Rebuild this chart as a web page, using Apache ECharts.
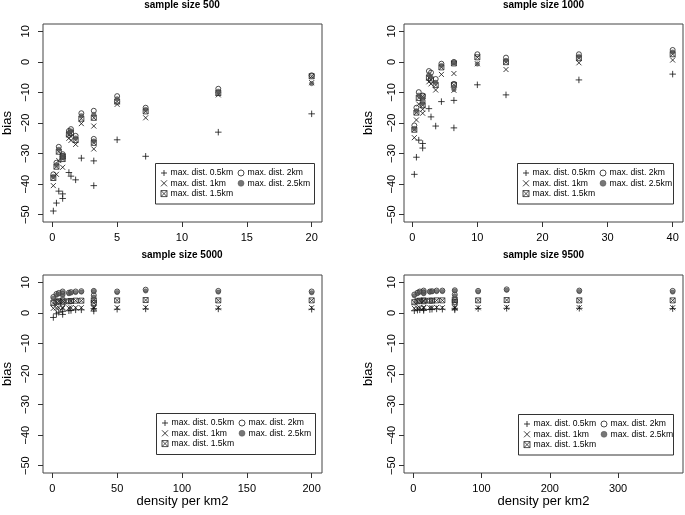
<!DOCTYPE html>
<html><head><meta charset="utf-8">
<script src="https://cdn.jsdelivr.net/npm/echarts@6/dist/echarts.min.js"></script>
<style>html,body{margin:0;padding:0;background:#fff}#c{width:685px;height:515px}</style>
</head><body><div id="c"></div>
<script>
// ---------- labels ----------
const panelTitles = ['sample size 500', 'sample size 1000', 'sample size 5000', 'sample size 9500'];
const seriesNames = ['max. dist. 0.5km', 'max. dist. 1km', 'max. dist. 1.5km', 'max. dist. 2km', 'max. dist. 2.5km'];
const xAxisTitle = 'density per km2';
const yAxisTitle = 'bias';
const xTicks500 = [0, 5, 10, 15, 20];
const xTicks1000 = [0, 10, 20, 30, 40];
const xTicks5000 = [0, 50, 100, 150, 200];
const xTicks9500 = [0, 100, 200, 300];
const yTicks = [-50, -40, -30, -20, -10, 0, 10];
const yLimits = [-50, 10];

// ---------- sample size 500 ----------
const density500 = [0.08, 0.32, 0.5, 0.8, 0.8, 1.28, 1.44, 1.8, 2.24, 3.2, 3.2, 5, 7.2, 12.8, 20];
const bias500_d05 = [-48.8, -46.2, -42.3, -43.2, -44.7, -36.2, -37.4, -38.6, -31.5, -32.4, -40.5, -25.5, -30.9, -23.0, -17.0];
const bias500_d10 = [-40.5, -36.8, -32.3, -30.8, -34.5, -25.0, -25.7, -27.0, -20.2, -21.0, -28.5, -13.9, -18.3, -10.8, -6.8];
const bias500_d15 = [-38.0, -34.3, -29.4, -31.0, -31.8, -23.8, -23.3, -25.6, -18.6, -18.3, -26.5, -13.0, -16.2, -10.2, -4.7];
const bias500_d20 = [-36.8, -33.0, -27.8, -30.2, -30.8, -22.6, -22.0, -24.2, -16.8, -16.0, -25.2, -11.2, -15.0, -8.8, -4.4];
const bias500_d25 = [-37.5, -33.7, -28.6, -30.6, -31.4, -23.2, -22.6, -24.9, -17.6, -17.2, -25.9, -12.1, -15.6, -9.6, -7.1];

// ---------- sample size 1000 ----------
const density1000 = [0.32, 0.64, 1.0, 1.6, 1.6, 2.56, 2.88, 3.6, 4.48, 6.4, 6.4, 10, 14.4, 25.6, 40];
const bias1000_d05 = [-36.8, -31.2, -25.6, -26.7, -28.2, -15.3, -18.0, -21.0, -13.0, -12.6, -21.6, -7.5, -10.8, -5.9, -4.0];
const bias1000_d10 = [-24.8, -19.0, -13.8, -15.5, -16.8, -6.5, -7.2, -9.2, -4.1, -3.8, -9.3, -0.6, -2.5, -0.3, 0.6];
const bias1000_d15 = [-22.2, -16.6, -11.8, -14.2, -11.3, -5.2, -5.8, -7.6, -1.8, -0.5, -7.5, 1.5, -0.1, 1.2, 2.5];
const bias1000_d20 = [-20.8, -15.0, -9.9, -12.8, -11.0, -3.0, -3.5, -5.6, -0.6, 0.0, -7.2, 2.5, 1.4, 2.5, 3.9];
const bias1000_d25 = [-21.8, -16.0, -10.9, -13.6, -12.1, -4.2, -5.0, -6.7, -1.2, -0.3, -9.0, -0.7, 0.5, 1.8, 3.2];

// ---------- sample size 5000 ----------
const density5000 = [0.8, 3.2, 5, 8, 8, 12.8, 14.4, 18, 22.4, 32, 32, 50, 72, 128, 200];
const bias5000_d05 = [-1.5, -0.3, 0.2, -0.5, 0.5, 0.7, 0.8, 1.0, 1.0, 0.6, 1.4, 1.2, 1.3, 1.3, 1.2];
const bias5000_d10 = [1.5, 1.6, 1.7, 1.5, 1.8, 1.6, 1.7, 1.7, 1.7, 1.5, 1.8, 1.7, 1.8, 1.7, 1.7];
const bias5000_d15 = [3.2, 3.6, 3.8, 3.5, 4.0, 3.8, 3.9, 4.0, 4.0, 3.3, 4.1, 4.1, 4.2, 4.1, 4.1];
const bias5000_d20 = [5.2, 6.2, 6.5, 6.2, 7.0, 6.6, 6.8, 7.0, 7.1, 5.8, 7.2, 7.0, 7.6, 7.2, 7.0];
const bias5000_d25 = [4.8, 5.8, 6.2, 5.6, 6.7, 6.3, 6.5, 6.7, 6.8, 5.2, 7.0, 6.7, 7.2, 6.8, 6.6];

// ---------- sample size 9500 ----------
const density9500 = [1.52, 6.08, 9.5, 15.2, 15.2, 24.3, 27.4, 34.2, 42.6, 60.8, 60.8, 95, 136.8, 243.2, 380];
const bias9500_d05 = [0.7, 0.9, 1.0, 0.8, 1.2, 1.1, 1.2, 1.3, 1.2, 1.0, 1.5, 1.4, 1.5, 1.5, 1.4];
const bias9500_d10 = [1.5, 1.6, 1.7, 1.6, 1.8, 1.7, 1.7, 1.8, 1.7, 1.6, 1.8, 1.7, 1.8, 1.7, 1.7];
const bias9500_d15 = [3.5, 3.8, 4.0, 3.8, 4.1, 4.0, 4.0, 4.1, 4.1, 3.6, 4.2, 4.1, 4.2, 4.1, 4.1];
const bias9500_d20 = [6.0, 6.6, 7.0, 6.6, 7.3, 7.0, 7.1, 7.3, 7.3, 6.0, 7.4, 7.2, 7.7, 7.3, 7.2];
const bias9500_d25 = [5.6, 6.3, 6.8, 6.3, 7.0, 6.8, 6.9, 7.0, 7.0, 5.5, 7.2, 6.9, 7.4, 7.0, 6.8];

// ---------- assembly ----------
const panels = [
  { x: density500,  ys: [bias500_d05, bias500_d10, bias500_d15, bias500_d20, bias500_d25], ticks: xTicks500 },
  { x: density1000, ys: [bias1000_d05, bias1000_d10, bias1000_d15, bias1000_d20, bias1000_d25], ticks: xTicks1000 },
  { x: density5000, ys: [bias5000_d05, bias5000_d10, bias5000_d15, bias5000_d20, bias5000_d25], ticks: xTicks5000 },
  { x: density9500, ys: [bias9500_d05, bias9500_d10, bias9500_d15, bias9500_d20, bias9500_d25], ticks: xTicks9500 }
];

const FONT = 'Liberation Sans, Arial, Helvetica, sans-serif';
const gridPos = [
  { left: 42,  top: 24,  width: 280, height: 198 },
  { left: 404, top: 24,  width: 279, height: 198 },
  { left: 42,  top: 275, width: 280, height: 198 },
  { left: 404, top: 275, width: 279, height: 198 }
];
const titlePos = [{ x: 182, y: 0 }, { x: 543.5, y: 0 }, { x: 182, y: 250 }, { x: 543.5, y: 250 }];
const yLabelMargin = [12, 7, 12, 7];
const legendBox = [
  { x: 155.5, y: 163.5, w: 159, h: 40.5 },
  { x: 517.5, y: 163.5, w: 156, h: 40.5 },
  { x: 156.5, y: 413.5, w: 159, h: 41 },
  { x: 518.5, y: 414.5, w: 155, h: 40.5 }
];

const SYMBOLS = [
  { symbol: 'path://M5,0L5,10M0,5L10,5', size: 6.5, style: { color: 'rgba(0,0,0,0)', borderColor: '#111', borderWidth: 1 } },
  { symbol: 'path://M0,0L10,10M10,0L0,10', size: 5, style: { color: 'rgba(0,0,0,0)', borderColor: '#111', borderWidth: 1 } },
  { symbol: 'path://M0,0L10,0L10,10L0,10ZM0,0L10,10M10,0L0,10', size: 5, style: { color: 'rgba(0,0,0,0)', borderColor: '#222', borderWidth: 1 } },
  { symbol: 'circle', size: 5, style: { color: 'rgba(0,0,0,0)', borderColor: '#222', borderWidth: 1 } },
  { symbol: 'circle', size: 4.5, style: { color: '#555', borderColor: '#444', borderWidth: 0.5 } }
];

function extendRange(lo, hi) { const d = (hi - lo) * 0.04; return [lo - d, hi + d]; }
const minus = v => String(v).replace('-', '\u2212');
const yR = extendRange(yLimits[0], yLimits[1]);

const grid = [], xAxis = [], yAxis = [], series = [], title = [], legend = [], graphic = [];
const ICON = 6;
panels.forEach((p, i) => {
  grid.push(Object.assign({ show: true, borderColor: '#444', borderWidth: 1, backgroundColor: 'transparent' }, gridPos[i]));
  const xr = extendRange(Math.min(...p.x), Math.max(...p.x));
  xAxis.push({
    type: 'value', gridIndex: i, min: xr[0], max: xr[1], position: 'bottom',
    name: i >= 2 ? xAxisTitle : '', nameLocation: 'middle', nameGap: 20,
    nameTextStyle: { fontSize: 13, color: '#000', fontFamily: FONT },
    axisLine: { show: false, onZero: false }, splitLine: { show: false },
    axisTick: { show: true, inside: false, length: 5, customValues: p.ticks, lineStyle: { color: '#333' } },
    axisLabel: { customValues: p.ticks, margin: 10, fontSize: 11, color: '#000', fontFamily: FONT, formatter: minus }
  });
  yAxis.push({
    type: 'value', gridIndex: i, min: yR[0], max: yR[1], position: 'left',
    name: yAxisTitle, nameLocation: 'middle', nameGap: 29, nameRotate: 90,
    nameTextStyle: { fontSize: 13, color: '#000', fontFamily: FONT },
    axisLine: { show: false, onZero: false }, splitLine: { show: false },
    axisTick: { show: true, inside: false, length: 5, customValues: yTicks, lineStyle: { color: '#333' } },
    axisLabel: { customValues: yTicks, rotate: 90, margin: yLabelMargin[i], fontSize: 11, color: '#000', fontFamily: FONT, formatter: minus }
  });
  title.push({
    text: panelTitles[i], left: titlePos[i].x, top: titlePos[i].y, textAlign: 'center', padding: 0,
    textStyle: { fontSize: 10, fontWeight: 'bold', color: '#000', fontFamily: FONT }
  });
  p.ys.forEach((ys, s) => {
    series.push({
      type: 'scatter', name: seriesNames[s], xAxisIndex: i, yAxisIndex: i,
      data: p.x.map((x, k) => [x, ys[k]]),
      symbol: SYMBOLS[s].symbol, symbolSize: SYMBOLS[s].size, itemStyle: SYMBOLS[s].style,
      silent: true, emphasis: { disabled: true }, animation: false
    });
  });
  const b = legendBox[i];
  graphic.push({ type: 'rect', z: 3, silent: true, shape: { x: b.x, y: b.y, width: b.w, height: b.h },
    style: { fill: 'none', stroke: '#333', lineWidth: 1 } });
  const common = {
    orient: 'vertical', padding: 0, itemGap: 1.3, itemWidth: ICON, itemHeight: ICON,
    selectedMode: false, top: b.y + 5,
    textStyle: { fontSize: 8.6, color: '#000', fontFamily: FONT, padding: [0, 0, 0, -1.5] }
  };
  legend.push(Object.assign({}, common, { left: b.x + 8 - ICON / 2,
    data: seriesNames.slice(0, 3).map((n, s) => ({ name: n, icon: SYMBOLS[s].symbol, itemStyle: SYMBOLS[s].style })) }));
  legend.push(Object.assign({}, common, { left: b.x + 85 - ICON / 2,
    data: seriesNames.slice(3).map((n, s) => ({ name: n, icon: SYMBOLS[s + 3].symbol, itemStyle: SYMBOLS[s + 3].style })) }));
});

const chart = echarts.init(document.getElementById('c'), null, { renderer: 'canvas' });
chart.setOption({ animation: false, backgroundColor: '#fff', title, legend, grid, xAxis, yAxis, series, graphic });
</script>
</body></html>
